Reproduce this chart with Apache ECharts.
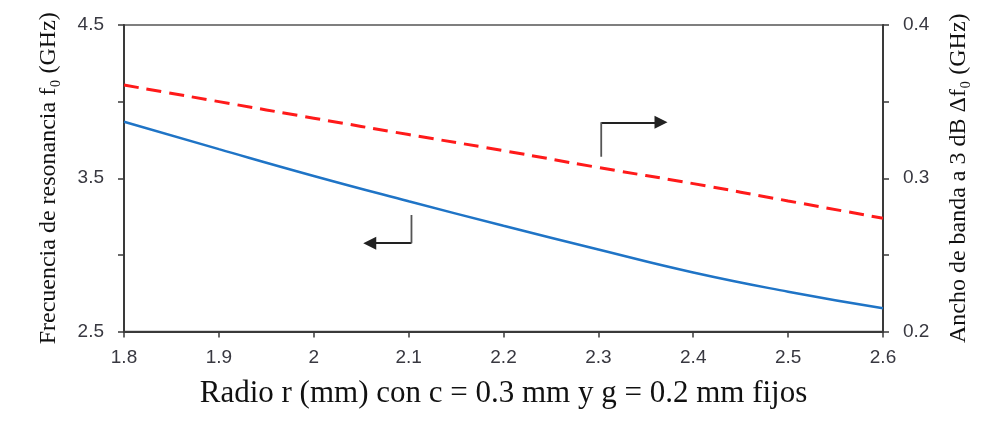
<!DOCTYPE html>
<html>
<head>
  <meta charset="utf-8">
  <title>Frecuencia de resonancia y ancho de banda</title>
  <script src="https://cdn.jsdelivr.net/npm/echarts@6/dist/echarts.min.js"></script>
  <style>
    html, body { margin: 0; padding: 0; background: #fff; }
    #chart { width: 985px; height: 423px; }
  </style>
</head>
<body>
  <div id="chart"></div>
  <script>
    // radio r (mm)
    var radio = [1.8, 1.9, 2.0, 2.1, 2.2, 2.3, 2.4, 2.5, 2.6];
    // frecuencia de resonancia f0 (GHz), eje izquierdo
    var frecuencia = [3.869, 3.69, 3.515, 3.35, 3.19, 3.035, 2.885, 2.76, 2.652];
    // ancho de banda a 3 dB (GHz), eje derecho
    var anchoBanda = [0.3608, 0.3500, 0.3392, 0.3285, 0.3180, 0.3070, 0.2965, 0.2852, 0.2739];
    // etiquetas visibles en los ejes verticales
    var etiquetasIzq = [2.5, 3.5, 4.5];
    var etiquetasDer = [0.2, 0.3, 0.4];
    // flechas indicadoras (en coordenadas del eje izquierdo): tramo vertical y tramo con punta
    var flechaDerTallo = [[2.303, 3.641], [2.303, 3.865]];
    var flechaDerPunta = [[2.303, 3.865], [2.366, 3.865]];
    var flechaIzqTallo = [[2.103, 3.260], [2.103, 3.076]];
    var flechaIzqPunta = [[2.103, 3.076], [2.059, 3.076]];

    var chart = echarts.init(document.getElementById('chart'));

    function pares(xs, ys) {
      return xs.map(function (x, i) { return [x, ys[i]]; });
    }

    var ejeColor = '#3a3a3a';
    var etiquetaEstilo = {
      fontFamily: 'Liberation Sans',
      fontSize: 19,
      color: '#383840'
    };

    var option = {
      animation: false,
      backgroundColor: '#fff',
      grid: {
        left: 124,
        right: 102,
        top: 25,
        bottom: 91.5,
        show: true,
        borderColor: '#555',
        borderWidth: 1.5
      },
      xAxis: {
        type: 'value',
        min: 1.8,
        max: 2.6,
        interval: 0.1,
        name: 'Radio r (mm) con c = 0.3 mm y g = 0.2 mm fijos',
        nameLocation: 'middle',
        nameGap: 47,
        nameTextStyle: { fontFamily: 'Liberation Serif', fontSize: 31, color: '#111' },
        axisLine: { lineStyle: { color: ejeColor, width: 2 } },
        axisTick: { length: 6, lineStyle: { color: ejeColor, width: 1.5 } },
        axisLabel: Object.assign({ margin: 17, formatter: function (v) { return +v.toFixed(1) + ''; } }, etiquetaEstilo),
        splitLine: { show: false }
      },
      yAxis: [{
        type: 'value',
        position: 'left',
        min: 2.5,
        max: 4.5,
        interval: 0.5,
        name: 'Frecuencia de resonancia f\u2080 (GHz)',
        nameLocation: 'middle',
        nameGap: 63,
        nameTextStyle: { fontFamily: 'Liberation Serif', fontSize: 24, color: '#111' },
        axisLine: { show: true, lineStyle: { color: ejeColor, width: 2 } },
        axisTick: { length: 6, lineStyle: { color: ejeColor, width: 1.5 } },
        axisLabel: Object.assign({
          margin: 20,
          formatter: function (v) {
            var r = Math.round(v * 10) / 10;
            return etiquetasIzq.indexOf(r) >= 0 ? r.toFixed(1) : '';
          }
        }, etiquetaEstilo),
        splitLine: { show: false }
      }, {
        type: 'value',
        position: 'right',
        min: 0.2,
        max: 0.4,
        interval: 0.05,
        name: 'Ancho de banda a 3 dB \u0394f\u2080 (GHz)',
        nameLocation: 'middle',
        nameGap: 64,
        nameTextStyle: { fontFamily: 'Liberation Serif', fontSize: 24, color: '#111' },
        axisLine: { show: true, lineStyle: { color: ejeColor, width: 2 } },
        axisTick: { length: 6, lineStyle: { color: ejeColor, width: 1.5 } },
        axisLabel: Object.assign({
          margin: 20,
          formatter: function (v) {
            var r = Math.round(v * 100) / 100;
            return etiquetasDer.indexOf(r) >= 0 ? r.toFixed(1) : '';
          }
        }, etiquetaEstilo),
        splitLine: { show: false }
      }],
      series: [{
        name: 'f0',
        type: 'line',
        yAxisIndex: 0,
        smooth: true,
        symbol: 'none',
        data: pares(radio, frecuencia),
        lineStyle: { color: '#1f74c6', width: 2.5 }
      }, {
        name: 'ancho',
        type: 'line',
        yAxisIndex: 1,
        smooth: true,
        symbol: 'none',
        data: pares(radio, anchoBanda),
        lineStyle: { color: '#ff1a1a', width: 3, type: [15, 8] }
      }, {
        type: 'line',
        yAxisIndex: 0,
        symbol: 'none',
        silent: true,
        data: flechaDerTallo,
        lineStyle: { color: '#555', width: 1.8 }
      }, {
        type: 'line',
        yAxisIndex: 0,
        symbol: 'none',
        silent: true,
        data: flechaIzqTallo,
        lineStyle: { color: '#555', width: 1.8 }
      }, {
        type: 'lines',
        coordinateSystem: 'cartesian2d',
        xAxisIndex: 0,
        yAxisIndex: 0,
        symbol: ['none', 'triangle'],
        symbolSize: 13,
        silent: true,
        lineStyle: { color: '#222', width: 1.8, opacity: 1 },
        data: [{ coords: flechaDerPunta }, { coords: flechaIzqPunta }]
      }]
    };

    chart.setOption(option);
  </script>
</body>
</html>
